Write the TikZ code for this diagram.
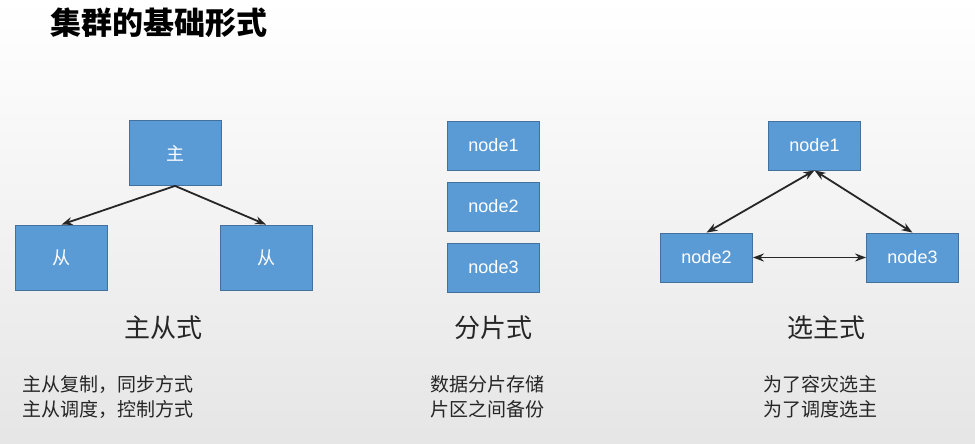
\documentclass[tikz,border=0pt]{standalone}
\usepackage{fontspec}
\setmainfont{Liberation Sans}
\newfontfamily\cjk{Noto Sans CJK SC}
\usepackage{xcolor}
\usetikzlibrary{arrows.meta,positioning}

\definecolor{boxfill}{HTML}{5B9BD5}
\definecolor{boxline}{HTML}{41719C}

\begin{document}
\begin{tikzpicture}[x=1pt,y=-1pt,
  box/.style={draw=boxline,line width=0.8pt,fill=boxfill,text=white,
              minimum width=92pt,minimum height=49pt,inner sep=0pt,
              font=\fontsize{18}{20}\selectfont},
  bigbox/.style={box,minimum height=65pt,font=\cjk\fontsize{18}{20}\selectfont},
  caption/.style={font=\cjk\fontsize{26}{30}\selectfont,text=black!85},
  note/.style={font=\cjk\fontsize{19}{25}\selectfont,align=left,inner sep=0pt,text=black!85},
  arr/.style={-{Stealth[length=11pt,width=8pt]},line width=1.8pt,draw=black!85},
  dbl/.style={{Stealth[length=11pt,width=8pt]}-{Stealth[length=11pt,width=8pt]},line width=1.8pt,draw=black!85}
]
\shade[top color=white,bottom color=black!10] (0,0) rectangle (975,444);
\useasboundingbox (0,0) rectangle (975,444);

\node[font=\cjk\bfseries\fontsize{31}{34}\selectfont,anchor=west,inner sep=0pt] (title) at (50,23) {集群的基础形式};

% master / slave
\node[bigbox] (master) at (175,153) {主};
\node[bigbox] (slaveL) at (61.5,257.5) {从};
\node[bigbox] (slaveR) at (266,257.5) {从};
\draw[arr] (master.south)--(slaveL.north);
\draw[arr] (master.south)--(slaveR.north);

% sharding
\node[box] (shard1) at (493.5,145.5) {node1};
\node[box] (shard2) at (493.5,206.5) {node2};
\node[box] (shard3) at (493.5,267.5) {node3};

% election
\node[box] (elect1) at (814.5,145.5) {node1};
\node[box] (elect2) at (706.5,257.5) {node2};
\node[box] (elect3) at (912.5,257.5) {node3};
\draw[dbl] (elect1.south)--(elect2.north);
\draw[dbl] (elect1.south)--(elect3.north);
\draw[dbl] (elect2.east)--(elect3.west);

\node[caption] (capMS) at (163,328) {主从式};
\node[caption] (capSh) at (493,328) {分片式};
\node[caption] (capEl) at (826,328) {选主式};

\node[note,anchor=west] (noteMS) at (22,397) {主从复制，同步方式\\主从调度，控制方式};
\node[note,anchor=west] (noteSh) at (430,397) {数据分片存储\\片区之间备份};
\node[note,anchor=west] (noteEl) at (763,397) {为了容灾选主\\为了调度选主};
\end{tikzpicture}
\end{document}
